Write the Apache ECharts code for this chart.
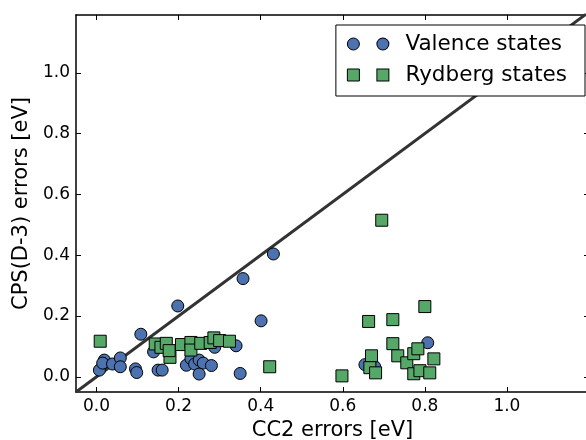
<!DOCTYPE html>
<html>
<head>
<meta charset="utf-8">
<script src="https://cdn.jsdelivr.net/npm/echarts@6/dist/echarts.min.js"></script>
<style>
  html, body { margin: 0; padding: 0; background: #fff; }
  #chart { width: 586px; height: 440px; }
</style>
</head>
<body>
<div id="chart"></div>
<script>
// valence states: CC2 error vs CPS(D-3) error
const valenceX = [0.007, 0.019, 0.015, 0.039, 0.058, 0.058, 0.095, 0.098, 0.108, 0.139, 0.150, 0.160, 0.198, 0.219, 0.230, 0.239, 0.250, 0.260, 0.280, 0.250, 0.288, 0.340, 0.350, 0.357, 0.401, 0.431, 0.654, 0.678, 0.807]
const valenceY = [0.022, 0.055, 0.045, 0.042, 0.062, 0.033, 0.026, 0.014, 0.140, 0.082, 0.022, 0.022, 0.233, 0.038, 0.060, 0.042, 0.055, 0.045, 0.037, 0.009, 0.097, 0.102, 0.011, 0.323, 0.184, 0.404, 0.040, 0.033, 0.112]
// rydberg states
const rydbergX = [0.009, 0.143, 0.157, 0.170, 0.179, 0.177, 0.207, 0.230, 0.230, 0.254, 0.277, 0.286, 0.300, 0.324, 0.422, 0.598, 0.663, 0.670, 0.666, 0.680, 0.695, 0.722, 0.722, 0.734, 0.756, 0.773, 0.773, 0.783, 0.788, 0.800, 0.812, 0.822]
const rydbergY = [0.117, 0.108, 0.097, 0.110, 0.064, 0.086, 0.106, 0.113, 0.088, 0.110, 0.113, 0.128, 0.119, 0.117, 0.033, 0.003, 0.182, 0.069, 0.030, 0.013, 0.515, 0.188, 0.109, 0.069, 0.046, 0.010, 0.076, 0.092, 0.020, 0.231, 0.013, 0.059]
const tickValues = [0, 0.2, 0.4, 0.6, 0.8, 1.0]
const diagonal = [-0.05, 1.2]

const blue = '#4c72b0'
const green = '#55a868'
const font = 'DejaVu Sans'

function pairs (xs, ys) {
  return xs.map((x, i) => [x, ys[i]])
}

const chart = echarts.init(document.getElementById('chart'))

const axisLine = { show: true, onZero: false, lineStyle: { color: '#000', width: 1.5 } }
const tick = { show: true, inside: true, length: 5, customValues: tickValues, lineStyle: { color: '#000', width: 1 } }
const label = {
  show: true,
  customValues: tickValues,
  formatter: v => v.toFixed(1),
  color: '#000',
  fontFamily: font,
  fontSize: 17
}

const option = {
  animation: false,
  backgroundColor: '#fff',
  grid: { left: 76, right: -3, top: 15, bottom: 48, outerBoundsMode: 'none', containLabel: false },
  legend: {
    right: 1,
    top: 25,
    orient: 'vertical',
    itemWidth: 12,
    itemHeight: 12,
    itemGap: 9,
    padding: [8, 18, 10, 11],
    backgroundColor: '#fff',
    borderColor: '#000',
    borderWidth: 1,
    borderRadius: 0,
    itemStyle: { borderColor: '#000', borderWidth: 1 },
    data: [
      { name: 'Valence states', icon: 'circle' },
      { name: 'Rydberg states', icon: 'rect' }
    ],
    formatter: name => name === 'Valence states'
      ? '{g|}{v|}{g2|}' + name
      : '{g|}{r|}{g2|}' + name,
    textStyle: {
      color: '#000',
      fontFamily: font,
      fontSize: 21.5,
      rich: {
        g: { width: 13 },
        g2: { width: 17 },
        v: { width: 11, height: 11, backgroundColor: blue, borderColor: '#000', borderWidth: 1, borderRadius: 6 },
        r: { width: 11, height: 11, backgroundColor: green, borderColor: '#000', borderWidth: 1 }
      }
    }
  },
  xAxis: [
    {
      type: 'value',
      min: -0.05,
      max: 1.2,
      position: 'bottom',
      name: 'CC2 errors [eV]',
      nameLocation: 'middle',
      nameGap: 25,
      nameTextStyle: { color: '#000', fontFamily: font, fontSize: 21 },
      axisLine: axisLine,
      axisTick: tick,
      axisLabel: Object.assign({}, label, { margin: 6 }),
      splitLine: { show: false }
    },
    {
      type: 'value',
      min: -0.05,
      max: 1.2,
      position: 'top',
      axisLine: axisLine,
      axisTick: tick,
      axisLabel: { show: false },
      splitLine: { show: false }
    }
  ],
  yAxis: [
    {
      type: 'value',
      min: -0.05,
      max: 1.19,
      position: 'left',
      name: 'CPS(D-3) errors [eV]',
      nameLocation: 'middle',
      nameGap: 31,
      nameTextStyle: { color: '#000', fontFamily: font, fontSize: 21 },
      axisLine: axisLine,
      axisTick: tick,
      axisLabel: Object.assign({}, label, { margin: 6 }),
      splitLine: { show: false }
    },
    {
      type: 'value',
      min: -0.05,
      max: 1.19,
      position: 'right',
      axisLine: axisLine,
      axisTick: tick,
      axisLabel: { show: false },
      splitLine: { show: false }
    }
  ],
  series: [
    {
      name: 'diagonal',
      type: 'line',
      data: pairs(diagonal, diagonal),
      symbol: 'none',
      silent: true,
      z: 1,
      lineStyle: { color: '#333', width: 3 }
    },
    {
      name: 'Valence states',
      type: 'scatter',
      data: pairs(valenceX, valenceY),
      symbol: 'circle',
      symbolSize: 12,
      z: 2,
      itemStyle: { color: blue, borderColor: '#000', borderWidth: 1, opacity: 1 }
    },
    {
      name: 'Rydberg states',
      type: 'scatter',
      data: pairs(rydbergX, rydbergY),
      symbol: 'rect',
      symbolSize: 12,
      z: 3,
      itemStyle: { color: green, borderColor: '#000', borderWidth: 1, opacity: 1 }
    }
  ]
}

chart.setOption(option)
window.addEventListener('resize', () => chart.resize())
</script>
</body>
</html>
